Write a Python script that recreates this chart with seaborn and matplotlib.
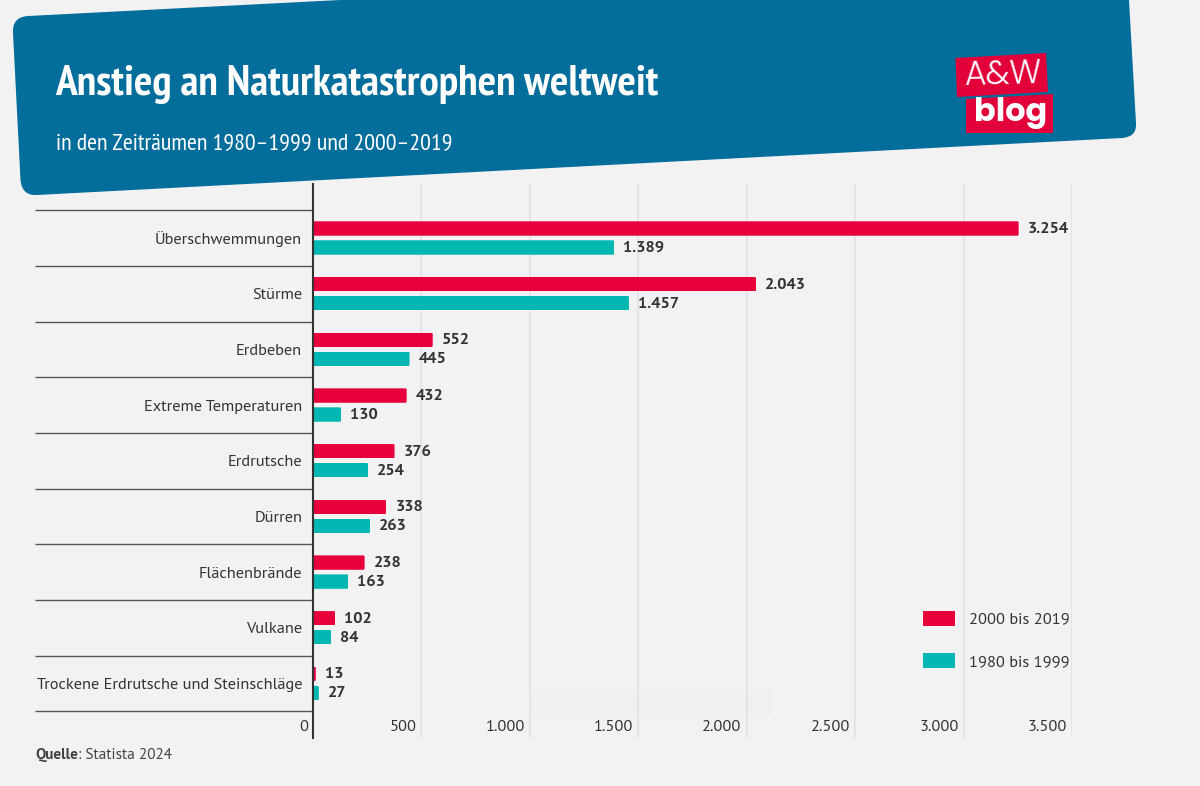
import matplotlib
matplotlib.use("Agg")
import matplotlib.pyplot as plt
from matplotlib.patches import PathPatch, Polygon, Rectangle, FancyBboxPatch
from matplotlib.path import Path
from matplotlib.transforms import ScaledTranslation, IdentityTransform
import seaborn as sns
import pandas as pd

categories = ["Überschwemmungen", "Stürme", "Erdbeben", "Extreme Temperaturen", "Erdrutsche",
              "Dürren", "Flächenbrände", "Vulkane", "Trockene Erdrutsche und Steinschläge"]
series_new = [3254, 2043, 552, 432, 376, 338, 238, 102, 13]
series_old = [1389, 1457, 445, 130, 254, 263, 163, 84, 27]
name_new = "2000 bis 2019"
name_old = "1980 bis 1999"
x_ticks = [0, 500, 1000, 1500, 2000, 2500, 3000, 3500]
x_labels = ["0", "500", "1.000", "1.500", "2.000", "2.500", "3.000", "3.500"]

BG, BLUE, RED, TEAL, INK = "#F2F2F2", "#036D9C", "#E8003D", "#00B7B2", "#333333"
W, H = 1200, 786

sns.set_theme(style="white")
BODY = ["PT Sans", "DejaVu Sans"]
NARROW = ["PT Sans Narrow", "DejaVu Sans"]
plt.rcParams["font.family"] = BODY

fig = plt.figure(figsize=(12, 7.86), dpi=100, facecolor=BG)
ax = fig.add_axes([313 / W, 1 - 738 / H, 759 / W, 554 / H], facecolor="none")

def fx(x): return x / W
def fy(y): return 1 - y / H

# header
hv = [(13, 33), (12, 17), (28, 16), (1140, -41), (1129, 0), (1136, 123), (1137, 137), (1122, 138),
      (37, 195), (22, 196), (20.5, 180), (13, 33)]
hc = [Path.MOVETO, Path.CURVE3, Path.CURVE3, Path.LINETO, Path.LINETO, Path.LINETO, Path.CURVE3, Path.CURVE3,
      Path.LINETO, Path.CURVE3, Path.CURVE3, Path.CLOSEPOLY]
fig.add_artist(PathPatch(Path([(fx(a), fy(b)) for a, b in hv], hc), transform=fig.transFigure,
                         fc=BLUE, ec="none", zorder=0))

# faint rectangle behind the plot
fig.add_artist(Rectangle((fx(530), fy(716)), 242 / W, 26 / H, transform=fig.transFigure,
                         fc="#F1EFF0", ec="none", zorder=0))

# data
df = pd.DataFrame({
    "Kategorie": categories * 2,
    "Anzahl": series_new + series_old,
    "Zeitraum": [name_new] * len(categories) + [name_old] * len(categories),
})
sns.barplot(data=df, x="Anzahl", y="Kategorie", hue="Zeitraum", order=categories,
            hue_order=[name_new, name_old], palette=[RED, TEAL], orient="h",
            width=0.682, gap=0.24, saturation=1, linewidth=0, ax=ax, zorder=3)

ax.set_xlim(0, 3500)
ax.set_ylim(8.98, -0.97)
ax.set_xlabel("")
ax.set_ylabel("")
for s in ["top", "right", "bottom"]:
    ax.spines[s].set_visible(False)
ax.spines["left"].set_color("#333333")
ax.spines["left"].set_linewidth(1.5)
ax.spines["left"].set_zorder(4)

ax.set_xticks(x_ticks, x_labels)
ax.tick_params(axis="x", length=0, pad=-13, labelsize=11.8, labelcolor=INK)
shift = ScaledTranslation(-5 / 100, 0, fig.dpi_scale_trans)
for t in ax.get_xticklabels():
    t.set_ha("right")
    t.set_transform(t.get_transform() + shift)
ax.tick_params(axis="y", length=0, pad=7.8, labelsize=11.8, labelcolor=INK)

for x in x_ticks[1:]:
    ax.axvline(x, color="#E0E0E0", lw=1.1, zorder=1)

ax.hlines([i - 0.5 for i in range(len(categories) + 1)], -278 / 759, 0,
          transform=ax.get_yaxis_transform(), colors="#555555", lw=1.0, clip_on=False, zorder=2)

# value labels and rounded bar ends
fig.canvas.draw()
for cont in ax.containers:
    for bar, val in zip(cont, cont.datavalues):
        ax.annotate(f"{int(val):,}".replace(",", "."), (val, bar.get_y() + bar.get_height() / 2),
                    xytext=(6.5, 0.7), textcoords="offset points", va="center_baseline", ha="left",
                    fontsize=11.8, fontweight="bold", color=INK)
        e = bar.get_window_extent()
        clip = FancyBboxPatch((e.x0 - 10, e.y0), e.width + 10, e.height,
                              boxstyle="round,pad=0,rounding_size=1.5", transform=IdentityTransform())
        bar.set_clip_path(clip)

# legend
handles, labels = ax.get_legend_handles_labels()
ax.legend(handles, labels, frameon=False, fontsize=11.8, labelcolor=INK,
          handlelength=1.95, handleheight=1.03, handletextpad=0.85, labelspacing=1.6,
          loc="lower left", bbox_to_anchor=((923 - 313) / 759, 69 / 554), borderaxespad=0, borderpad=0)

# titles
fig.text(fx(55.5), fy(95), "Anstieg an Naturkatastrophen weltweit", family=NARROW,
         fontweight="bold", fontsize=31.2, color="white", va="baseline")
fig.text(fx(56.5), fy(149), "in den Zeiträumen 1980–1999 und 2000–2019", family=NARROW,
         fontsize=17.3, color="white", va="baseline")

# logo
fig.add_artist(Polygon([(fx(a), fy(b)) for a, b in [(955.5, 58), (1046, 53), (1048, 92), (957, 97)]],
                       transform=fig.transFigure, fc="#E2003A", ec="none"))
fig.add_artist(Polygon([(fx(a), fy(b)) for a, b in [(966, 99), (1053, 94), (1053, 133), (966, 133)]],
                       transform=fig.transFigure, fc="#E2003A", ec="none"))
fig.text(fx(1004), fy(76), "A&W", family=["Poppins", "DejaVu Sans"], fontsize=24, fontweight=300,
         color="white", ha="center", va="center", rotation=1.5)
fig.text(fx(1010.5), fy(113), "blog", family=["Poppins", "DejaVu Sans"], fontsize=23, fontweight="bold",
         color="white", ha="center", va="center")

# source
q = fig.text(fx(35.5), fy(759), "Quelle", fontsize=11, fontweight="bold", color="#444444")
bb = q.get_window_extent(fig.canvas.get_renderer())
fig.text(bb.x1 / W, fy(759), ": Statista 2024", fontsize=11, color="#444444")

fig.savefig("out.png", dpi=100, facecolor=BG)
